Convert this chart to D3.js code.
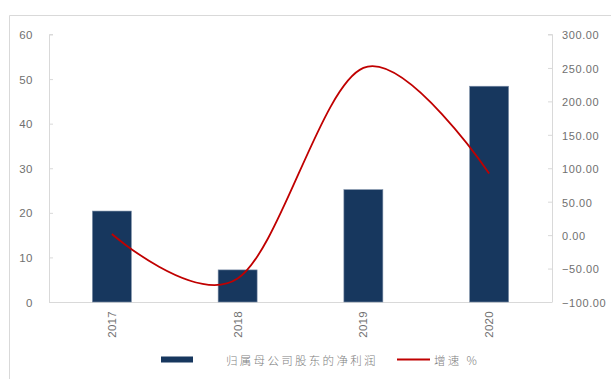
<!DOCTYPE html>
<html>
<head>
<meta charset="utf-8">
<script src="https://cdn.jsdelivr.net/npm/d3@7"></script>
<style>
  html, body { margin: 0; padding: 0; background: #fff; }
  svg { display: block; }
</style>
</head>
<body>
<svg id="chart" width="611" height="379"></svg>
<script>
const categories = ["2017", "2018", "2019", "2020"];
const profit = [20.4, 7.2, 25.2, 48.4];
const growth = [1.6, -65, 250, 92];
const leftTicks = [0, 10, 20, 30, 40, 50, 60];
const rightTicks = [-100, -50, 0, 50, 100, 150, 200, 250, 300];
const seriesNames = ["归属母公司股东的净利润", "增速 %"];

const svg = d3.select("#chart");
const W = 611, H = 379;
const plot = { left: 49, right: 552, top: 34.5, bottom: 302 };
const axisColor = "#d9d9d9";
const textColor = "#707070";
const barColor = "#17375e";
const lineColor = "#c00000";

// frame
svg.append("path")
  .attr("d", `M9.5,${H} L9.5,15.5 L${W},15.5`)
  .attr("fill", "none").attr("stroke", axisColor).attr("stroke-width", 1);

const x = d3.scaleBand().domain(categories).range([plot.left, plot.right])
  .paddingInner(0.69).paddingOuter(0.345);
const yL = d3.scaleLinear().domain([0, 60]).range([plot.bottom, plot.top]);
const yR = d3.scaleLinear().domain([-100, 300]).range([plot.bottom, plot.top]);

// left axis
const gL = svg.append("g").attr("transform", `translate(${plot.left},0)`)
  .call(d3.axisLeft(yL).tickValues(leftTicks).tickSize(-4).tickPadding(20));
gL.select(".domain").attr("stroke", axisColor).attr("d", `M4,${plot.top}H0.5V${plot.bottom}`);
gL.selectAll(".tick line").attr("stroke", axisColor).attr("x1", 0.5).attr("x2", 4);
gL.selectAll(".tick text").attr("fill", textColor)
  .style("font-family", "Liberation Sans, Arial, sans-serif").style("font-size", "11.5px")
  .attr("x", -16).attr("dy", "0.35em").style("letter-spacing", "0.5px");

// right axis
const gR = svg.append("g").attr("transform", `translate(${plot.right},0)`)
  .call(d3.axisRight(yR).tickValues(rightTicks).tickFormat(d3.format(".2f")).tickSize(-4));
gR.select(".domain").attr("stroke", axisColor).attr("d", `M-4,${plot.top}H0.5V${plot.bottom}`);
gR.selectAll(".tick line").attr("stroke", axisColor).attr("x1", 0.5).attr("x2", -4);
gR.selectAll(".tick text").attr("fill", textColor)
  .style("font-family", "Liberation Sans, Arial, sans-serif").style("font-size", "11px")
  .attr("x", 10).attr("dy", "0.4em").style("letter-spacing", "0.6px");

// x axis
const gX = svg.append("g").attr("transform", `translate(0,${plot.bottom})`)
  .call(d3.axisBottom(x).tickSize(0));
gX.select(".domain").attr("stroke", axisColor).attr("d", `M${plot.left},0.5H${plot.right}`);
gX.selectAll(".tick text").attr("fill", textColor)
  .style("font-family", "Liberation Sans, Arial, sans-serif").style("font-size", "11.5px")
  .attr("text-anchor", "end")
  .attr("transform", "rotate(-90)")
  .attr("x", -9).attr("y", 0).attr("dy", "0.35em").style("letter-spacing", "0.3px");

// bars
svg.append("g").selectAll("rect").data(profit).join("rect")
  .attr("x", (d, i) => x(categories[i]))
  .attr("width", x.bandwidth())
  .attr("y", d => yL(d))
  .attr("height", d => yL(0) - yL(d))
  .attr("fill", barColor)
  .attr("stroke", "#7d8fa8").attr("stroke-width", 0.6);

// line
const line = d3.line()
  .x((d, i) => x(categories[i]) + x.bandwidth() / 2)
  .y(d => yR(d))
  .curve(d3.curveCatmullRom.alpha(0));
svg.append("path").datum(growth)
  .attr("d", line)
  .attr("fill", "none").attr("stroke", lineColor).attr("stroke-width", 1.8);

// legend
const lg = svg.append("g");
lg.append("rect").attr("x", 161).attr("y", 356.5).attr("width", 32).attr("height", 6).attr("fill", barColor);
lg.append("text").attr("x", 226).attr("y", 360.5).attr("dy", "0.35em")
  .text(seriesNames[0]).attr("fill", "#808080")
  .style("font-family", "Noto Sans CJK SC, sans-serif").style("font-size", "11.5px")
  .style("letter-spacing", "2.3px").style("font-weight", "300");
lg.append("line").attr("x1", 397).attr("x2", 430).attr("y1", 359.5).attr("y2", 359.5)
  .attr("stroke", lineColor).attr("stroke-width", 1.8);
lg.append("text").attr("x", 434).attr("y", 360.5).attr("dy", "0.35em")
  .text(seriesNames[1]).attr("fill", "#808080")
  .style("font-family", "Noto Sans CJK SC, sans-serif").style("font-size", "11.5px")
  .style("letter-spacing", "2.3px").style("font-weight", "300");
</script>
</body>
</html>
